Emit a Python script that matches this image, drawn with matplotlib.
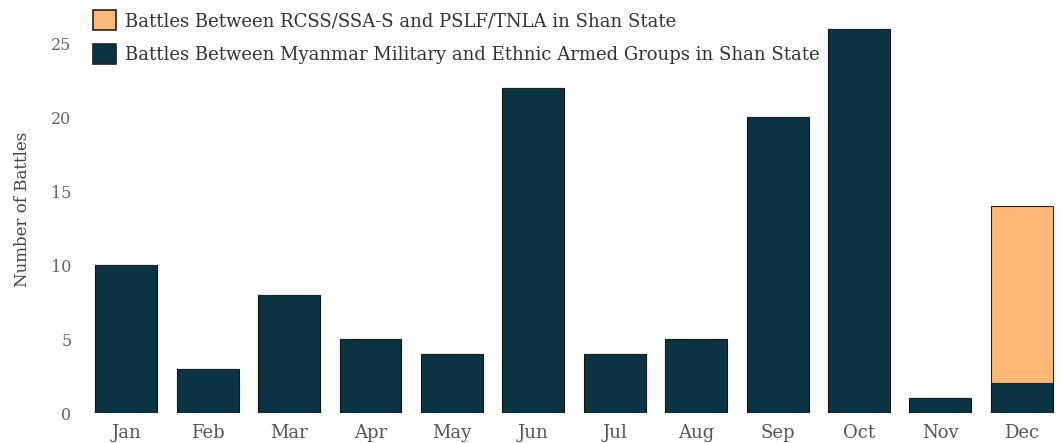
import numpy as np
import matplotlib.pyplot as plt
from matplotlib.patches import Patch

# Monthly battle counts in Shan State
months = ['Jan', 'Feb', 'Mar', 'Apr', 'May', 'Jun', 'Jul', 'Aug', 'Sep', 'Oct', 'Nov', 'Dec']
military_battles = [10, 3, 8, 5, 4, 22, 4, 5, 20, 26, 1, 2]
rcss_pslf_battles = [0, 0, 0, 0, 0, 0, 0, 0, 0, 0, 0, 12]

label_rcss = 'Battles Between RCSS/SSA-S and PSLF/TNLA in Shan State'
label_military = 'Battles Between Myanmar Military and Ethnic Armed Groups in Shan State'

dark = '#0b3443'
orange = '#fdb877'

plt.rcParams['font.family'] = ['DejaVu Serif']

fig = plt.figure(figsize=(10.62, 4.43), dpi=100)
ax = fig.add_axes([0.0805, 0.0677, 0.92, 0.921])

x = np.arange(len(months))
ax.bar(x, military_battles, width=0.76, color=dark, edgecolor='#111111', linewidth=0.8)
ax.bar(x, rcss_pslf_battles, width=0.76, bottom=military_battles, color=orange,
       edgecolor='#222222', linewidth=0.8)

ax.set_xlim(-0.5, 11.5)
ax.set_ylim(0, 27.6)
ax.set_xticks(x)
ax.set_xticklabels(months, fontsize=13, color='#555555')
ax.set_yticks([0, 5, 10, 15, 20, 25])
ax.tick_params(axis='y', labelsize=11.5, labelcolor='#666666', length=0, pad=10)
ax.tick_params(axis='x', length=0, pad=8)
ax.set_ylabel('Number of Battles', fontsize=12, color='#444444')
ax.yaxis.set_label_coords(-0.056, 0.5)

for s in ax.spines.values():
    s.set_visible(False)

handles = [Patch(facecolor=orange, edgecolor='#222222', linewidth=1.2),
           Patch(facecolor=dark, edgecolor='#222222', linewidth=1.2)]
leg = ax.legend(handles, [label_rcss, label_military], loc='upper left',
                bbox_to_anchor=(0.0, 1.005), frameon=False, fontsize=13,
                handlelength=1.3, handleheight=1.3, handletextpad=0.5,
                labelspacing=0.78, borderaxespad=0.0)
for t in leg.get_texts():
    t.set_color('#333333')

fig.savefig('out.png', dpi=100)
